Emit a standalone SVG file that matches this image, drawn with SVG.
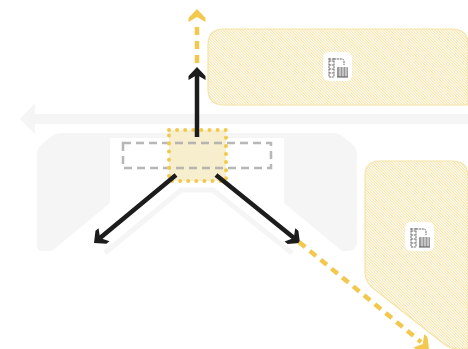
<svg xmlns="http://www.w3.org/2000/svg" width="468" height="349" viewBox="0 0 468 349">
<style>
.g{fill:#f5f5f5}
.z{fill:url(#hatch);stroke:#f5e3a8;stroke-width:1.2}
.k{fill:none;stroke:#1c1c1c;stroke-width:4.5}
.kh{fill:#1c1c1c}
.y{fill:none;stroke:#f2c94c;stroke-width:4.5;stroke-dasharray:8 6}
.yh{fill:#f2c94c}
.ic{fill:none;stroke:#666;stroke-width:1}
</style>
<defs>
<pattern id="hatch" width="2" height="2" patternUnits="userSpaceOnUse" patternTransform="rotate(-45)">
<rect width="2" height="2" fill="#fff"/>
<rect width="1" height="2" fill="#f6e3a6"/>
</pattern>
<path id="head" d="M0 0L8.5 9V13L0 8L-8.5 13V9Z"/>
<g id="icon">
<rect x="0" y="0" width="29" height="29" rx="6" fill="#fff"/>
<path class="ic" d="M6 6V25M11 6V25M6 9H11M6 13H11M6 17H11M6 21H11M6 25H11M6 7H19Q21 7 21 10V13" stroke-dasharray="2 .7"/>
<rect x="14" y="15" width="11" height="10" rx="1" fill="#999"/>
<path d="M17 15V25M20 15V25M23 15V25" stroke="#eee" stroke-width="1"/>
<path d="M14 25H25" stroke="#555" stroke-width="1"/>
</g>
</defs>
<g id="road">
<path class="g" d="M468 114H35V103L20 119L35 134V124H468Z"/>
</g>
<g id="ground">
<path class="g" d="M37 155Q37 148 42 144L52 136Q56 133 62 133H332Q338 133 342 136L352 144Q357 148 357 155V241Q357 251 347 251H342L284 203V138H110V203L53 250Q52 251 47 251H42Q37 251 37 246Z"/>
<path d="M105 253L181 190H213L292 253" fill="none" stroke="#f5f5f5" stroke-width="5"/>
</g>
<g id="zone-top"><path class="z" d="M224 29H452Q468 29 468 45V105H224Q208 105 208 89V45Q208 29 224 29Z"/><use href="#icon" x="323" y="52"/></g>
<g id="zone-right"><path class="z" d="M380 161H452Q468 161 468 177V349H458Q450 349 444 344L374 289Q365 282 365 272V176Q365 161 380 161Z"/><use href="#icon" x="405" y="222"/></g>
<g id="center">
<rect x="169" y="130" width="57" height="51" fill="#f6eecd"/>
<rect x="123" y="143" width="148" height="25" fill="none" stroke="#aaa" stroke-opacity=".85" stroke-width="2.5" stroke-dasharray="8 5"/>
<rect x="169" y="130" width="57" height="51" fill="none" stroke="#f2c94c" stroke-width="4" stroke-linecap="round" stroke-dasharray="0 8.1"/>
</g>
<g id="connectors">
<path class="y" d="M197 63V21"/>
<use href="#head" class="yh" transform="translate(197 9)"/>
<path class="k" d="M197 137V74"/>
<use href="#head" class="kh" transform="translate(197 67)"/>
<path class="k" d="M176 175L100 238"/>
<use href="#head" class="kh" transform="translate(94 243) rotate(-129.8)"/>
<path class="k" d="M216 175L294 238"/>
<use href="#head" class="kh" transform="translate(300 243) rotate(129)"/>
<path class="y" d="M299 242L421 342"/>
<use href="#head" class="yh" transform="translate(429 349) rotate(129)"/>
</g>
</svg>
